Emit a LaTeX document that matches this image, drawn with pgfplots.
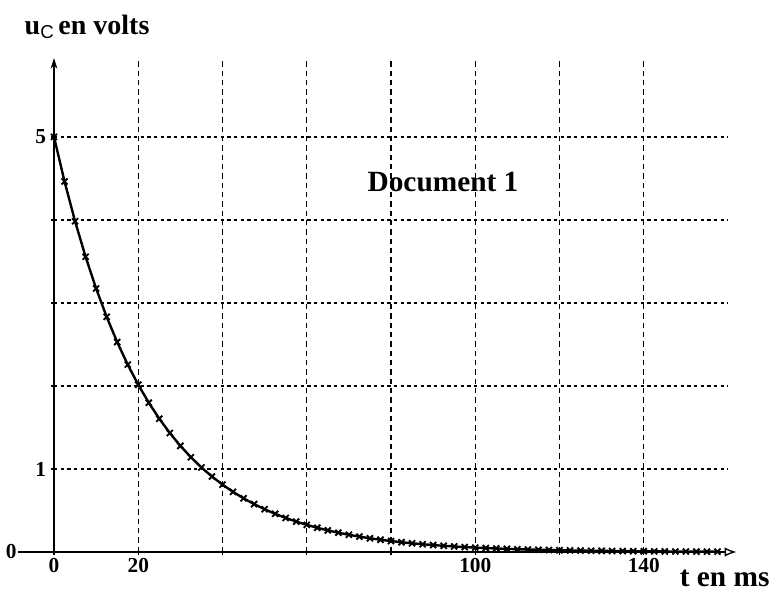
\documentclass[border=0pt]{standalone}
\usepackage{pgfplots}
\pgfplotsset{compat=1.18}
\usepackage{fontspec}
\setmainfont{Liberation Serif}
\setsansfont{Liberation Sans}
\usetikzlibrary{arrows.meta}
\begin{document}
\begin{tikzpicture}[x=1pt,y=1pt]
\useasboundingbox (-40.5,-30) rectangle (547.5,414);
\begin{axis}[
 scale only axis, width=505.5pt, height=370.5pt,
 xmin=0, xmax=160, ymin=0, ymax=5.95,
 axis lines=left,
 x axis line style={line width=1pt, shorten >=-6.5pt, -{Latex[open,length=9pt,width=7pt]}},
 y axis line style={line width=1pt, -{Stealth[length=8pt,width=5pt]}},
 xtick={0,20,...,140}, xticklabels={0,20,,,,100,,140},
 ytick={1,...,5}, yticklabels={1,,,,5},
 extra y ticks={0}, extra y tick labels={0},
 extra y tick style={grid=none, yticklabel style={xshift=-22pt}},
 grid=major,
 x grid style={black, line width=1pt, dash pattern=on 4pt off 3pt},
 y grid style={black, line width=1pt, dash pattern=on 2.5pt off 2.5pt},
 tick style={black, line width=1pt},
 major tick length=5pt,
 tick align=center,
 tick label style={font=\fontsize{16}{16}\selectfont\bfseries},
 xticklabel style={yshift=1pt},
 /pgf/number format/assume math mode=true,
 clip=false,
]
\addplot[black, line width=1.8pt, mark=x, mark size=3.2pt, mark options={line width=1.4pt}] coordinates {
(0,5.0000) (2.5,4.4629) (5,3.9835) (7.5,3.5556) (10,3.1736) (12.5,2.8327) (15,2.5284) (17.5,2.2568)
(20,2.0144) (22.5,1.7980) (25,1.6049) (27.5,1.4325) (30,1.2786) (32.5,1.1413) (35,1.0187) (37.5,0.9093)
(40,0.8116) (42.5,0.7244) (45,0.6466) (47.5,0.5771) (50,0.5151) (52.5,0.4598) (55,0.4104) (57.5,0.3663)
(60,0.3270) (62.5,0.2918) (65,0.2605) (67.5,0.2325) (70,0.2075) (72.5,0.1852) (75,0.1653) (77.5,0.1476)
(80,0.1317) (82.5,0.1176) (85,0.1050) (87.5,0.0937) (90,0.0836) (92.5,0.0746) (95,0.0666) (97.5,0.0595)
(100,0.0531) (102.5,0.0474) (105,0.0423) (107.5,0.0377) (110,0.0337) (112.5,0.0301) (115,0.0268) (117.5,0.0240)
(120,0.0214) (122.5,0.0191) (125,0.0170) (127.5,0.0152) (130,0.0136) (132.5,0.0121) (135,0.0108) (137.5,0.0097)
(140,0.0086) (142.5,0.0077) (145,0.0069) (147.5,0.0061) (150,0.0055) (152.5,0.0049) (155,0.0044) (157.5,0.0039)
};
\draw[black, line width=1pt] (axis cs:-8.5,0) -- (axis cs:0,0);
\end{axis}
\node[anchor=west, font=\fontsize{21}{21}\selectfont\bfseries] at (-25.5,393.75) {u\raisebox{-0.35ex}{\fontsize{14}{14}\selectfont\mdseries\sffamily C}\,en volts};
\node[font=\fontsize{22}{22}\selectfont\bfseries] at (291.75,277.5) {Document 1};
\node[font=\fontsize{22}{22}\selectfont\bfseries] at (503,-20) {t en ms};
\end{tikzpicture}
\end{document}
